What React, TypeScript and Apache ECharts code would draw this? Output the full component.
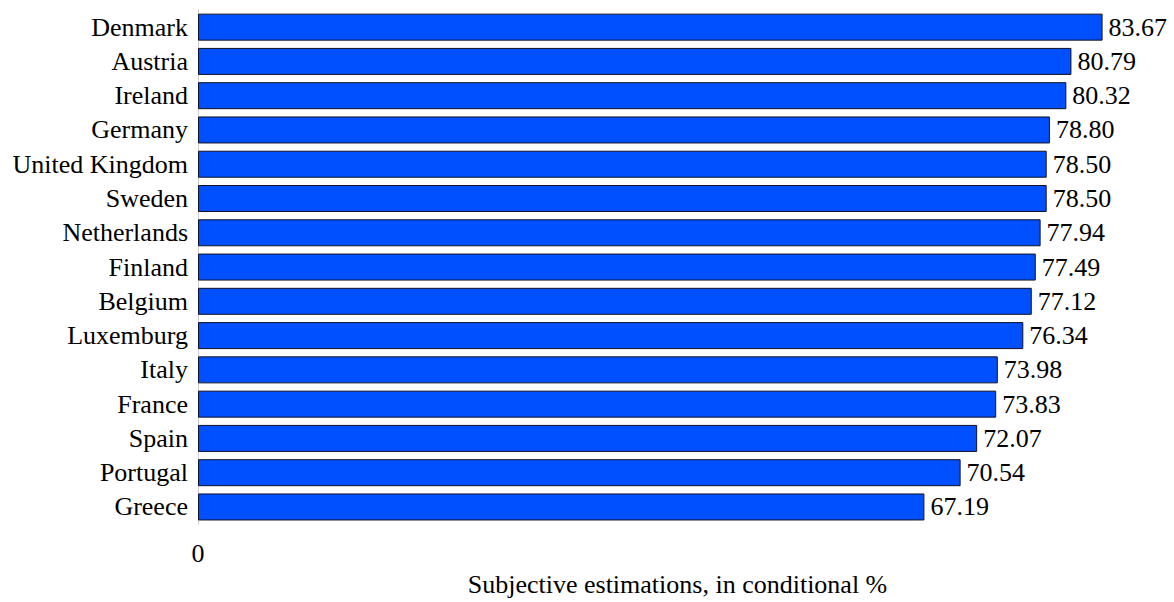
import React, { useEffect, useRef } from "react";
import * as echarts from "echarts";

const countries = [
  "Denmark",
  "Austria",
  "Ireland",
  "Germany",
  "United Kingdom",
  "Sweden",
  "Netherlands",
  "Finland",
  "Belgium",
  "Luxemburg",
  "Italy",
  "France",
  "Spain",
  "Portugal",
  "Greece",
];

const values = [
  83.67, 80.79, 80.32, 78.8, 78.5, 78.5, 77.94, 77.49, 77.12, 76.34, 73.98,
  73.83, 72.07, 70.54, 67.19,
];

const xAxisName = "Subjective estimations, in conditional %";

export default function App() {
  const ref = useRef<HTMLDivElement>(null);

  useEffect(() => {
    if (!ref.current) return;
    const chart = echarts.init(ref.current, null, { renderer: "svg" });
    const font = "'Liberation Serif', 'Times New Roman', serif";
    chart.setOption({
      animation: false,
      backgroundColor: "#ffffff",
      grid: { left: 198, right: 0, top: 10, height: 525, containLabel: false },
      xAxis: {
        type: "value",
        min: 0,
        max: 90,
        interval: 90,
        axisLine: { show: false },
        axisTick: { show: false },
        splitLine: { show: false },
        axisLabel: {
          margin: 16,
          color: "#000",
          fontFamily: font,
          fontSize: 26,
          formatter: (v: number) => (v === 0 ? "0" : ""),
        },
        name: xAxisName,
        nameLocation: "middle",
        nameGap: 44,
        nameTextStyle: {
          color: "#000",
          fontFamily: font,
          fontSize: 26,
          padding: [0, 14, 0, 0],
        },
      },
      yAxis: {
        type: "category",
        data: countries,
        inverse: true,
        axisLine: { show: true, lineStyle: { color: "#cccccc", width: 1 } },
        axisTick: { show: false },
        axisLabel: {
          margin: 10,
          color: "#000",
          fontFamily: font,
          fontSize: 26,
        },
      },
      series: [
        {
          type: "bar",
          data: values,
          barWidth: 27,
          itemStyle: {
            color: "#0050ff",
            borderColor: "#111122",
            borderWidth: 1,
          },
          label: {
            show: true,
            position: "right",
            distance: 6,
            color: "#000",
            fontFamily: font,
            fontSize: 26,
            formatter: (p: any) => p.value.toFixed(2),
          },
        },
      ],
    });
    return () => chart.dispose();
  }, []);

  return (
    <div
      ref={ref}
      style={{ position: "fixed", left: 0, top: 0, width: 1174, height: 602 }}
    />
  );
}
